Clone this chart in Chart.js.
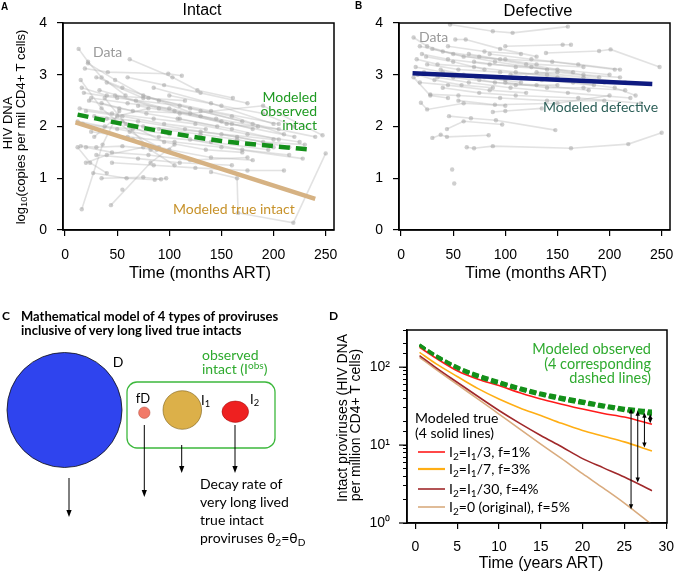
<!DOCTYPE html>
<html><head><meta charset="utf-8">
<script src="https://cdn.jsdelivr.net/npm/chart.js@4.4.1/dist/chart.umd.min.js"></script>
<style>
body{margin:0;background:#fff;width:676px;height:571px;position:relative;overflow:hidden;font-family:'Liberation Sans',Arial,sans-serif}
canvas{position:absolute}
.t{position:absolute;white-space:nowrap;line-height:1}
.t sub{font-size:0.72em;vertical-align:-0.28em;line-height:0}
.t sup{font-size:0.72em;vertical-align:0.45em;line-height:0}
svg{position:absolute;left:0;top:0}
</style></head><body>
<canvas id="cA" width="340" height="290" style="left:0;top:0"></canvas>
<canvas id="cB" width="340" height="290" style="left:336px;top:0"></canvas>
<canvas id="cD" width="340" height="271" style="left:336px;top:300px"></canvas>
<svg id="sv" width="676" height="571"></svg>
<script>
// ---------- DATA ----------
// Panel A: intact HIV DNA per participant, [months ART, log10 copies]
const intactPatients = [
 [[13,3.5],[22,3.25],[35,2.95],[58,2.6]],
 [[62,3.3],[103,2.95],[127,2.7],[161,2.55]],
 [[19,3.12],[41,3.05],[99,3.02],[112,2.98]],
 [[22,3.22],[48,2.9],[75,2.6],[120,2.35],[170,2.1]],
 [[30,2.95],[55,2.75],[90,2.5],[130,2.2],[180,1.95]],
 [[16,2.75],[40,2.6],[80,2.55],[140,2.3],[205,2.05]],
 [[18,2.65],[50,2.55],[110,2.4],[160,2.2],[210,1.85]],
 [[25,2.55],[60,2.45],[100,2.35],[150,2.1]],
 [[35,2.45],[65,2.3],[120,2.25],[190,2.4],[247,1.83]],
 [[14,2.35],[45,2.25],[85,2.15],[125,2.05],[175,1.85],[225,1.7]],
 [[20,2.3],[55,2.2],[95,2.05],[135,1.95]],
 [[28,2.2],[70,2.1],[115,1.95],[165,1.8],[215,1.6]],
 [[40,2.15],[75,2.0],[130,1.9],[200,1.75]],
 [[17,2.05],[50,1.95],[90,1.8],[140,1.7],[195,1.55]],
 [[25,1.9],[60,1.8],[105,1.7],[150,1.6],[228,1.38]],
 [[15,1.62],[30,1.6],[55,1.62],[88,1.55]],
 [[20,1.6],[45,1.5],[80,1.45],[120,1.35],[175,1.4]],
 [[30,1.45],[70,1.38],[110,1.3],[160,1.25]],
 [[45,1.3],[85,1.25],[125,1.2],[175,1.15],[210,1.15]],
 [[27,1.1],[59,1.0],[86,0.97],[97,1.0]],
 [[35,1.0],[75,1.02],[92,0.98]],
 [[16,0.4],[36,1.65],[52,2.3]],
 [[44,0.48],[82,1.3],[105,1.65]],
 [[55,0.78]],
 [[140,1.12],[165,1.0],[166,0.33],[219,0.14],[250,1.48]],
 [[60,2.95],[95,2.8],[130,2.65],[175,2.45]],
 [[85,2.75],[140,2.45],[200,2.05]],
 [[100,2.6],[150,2.4],[190,2.25],[220,2.0]],
 [[12,2.1],[38,2.0],[65,1.95],[100,1.85]],
 [[23,2.5],[52,2.35],[78,2.25],[108,2.15],[146,2.0]],
 [[33,2.7],[68,2.5],[105,2.3],[155,2.05],[205,1.95]],
 [[40,2.85],[75,2.55],[115,2.5]],
 [[48,2.6],[90,2.35],[145,2.15],[185,2.0]],
 [[55,2.1],[95,1.7],[135,1.55],[170,1.5]],
 [[65,1.75],[100,1.55],[140,1.4],[180,1.35]],
 [[70,2.4],[110,2.25],[160,2.05],[220,1.8]],
 [[110,2.15],[160,1.95],[205,1.75]],
 [[120,1.75],[170,1.55],[215,1.45]],
 [[130,2.3],[180,2.05],[240,1.8]],
 [[15,2.9],[35,2.35],[62,1.9],[90,1.6]],
 [[20,1.3],[40,1.45],[75,1.6]],
 [[28,1.8],[50,2.2],[80,2.35]],
 [[12,1.6],[24,1.3],[40,1.1]],
 [[38,2.55],[58,2.05],[82,1.55],[105,1.25]],
 [[150,1.85],[190,1.7],[230,1.65]],
 [[90,1.95],[130,1.85],[165,1.75],[200,1.6]]
];
// Panel B: defective HIV DNA per participant
const defectivePatients = [
 [[47,3.97],[88,3.84],[107,3.81],[160,3.93]],
 [[12,3.72],[25,3.55],[50,3.4],[90,3.25],[140,3.1]],
 [[52,3.68],[62,3.68],[95,3.5],[130,3.35]],
 [[18,3.55],[40,3.45],[75,3.35],[120,3.2],[165,3.05]],
 [[139,3.42],[190,3.46],[201,3.49],[248,3.15]],
 [[100,3.55],[155,3.58],[163,3.58]],
 [[20,3.4],[45,3.3],[85,3.2],[125,3.15],[175,3.0],[210,2.95]],
 [[15,3.3],[35,3.2],[70,3.15],[110,3.05],[150,2.95]],
 [[25,3.2],[55,3.1],[95,3.05],[140,3.0],[195,2.85]],
 [[30,3.5],[60,3.35],[100,3.3],[145,3.25],[205,3.1]],
 [[14,3.15],[40,3.05],[80,2.95],[115,2.85]],
 [[22,3.05],[50,2.95],[90,2.85],[130,2.8],[180,2.7]],
 [[35,2.95],[65,2.85],[105,2.75],[160,2.65],[220,2.55]],
 [[18,2.85],[45,2.8],[85,2.7],[120,2.65]],
 [[40,2.75],[75,2.65],[110,2.6],[170,2.55],[230,2.45]],
 [[19,2.46],[25,2.33],[60,2.45],[100,2.4]],
 [[28,2.62],[55,2.6],[95,2.55],[140,2.5],[195,2.5]],
 [[60,3.0],[95,2.95],[135,2.9],[185,2.8]],
 [[70,3.25],[110,3.15],[150,3.1],[200,3.0]],
 [[85,3.4],[125,3.3],[170,3.2],[210,3.1]],
 [[45,3.55],[80,3.45],[115,3.4]],
 [[120,2.95],[165,2.85],[205,2.75],[225,2.6]],
 [[16,3.0],[32,2.9],[58,2.8],[88,2.75]],
 [[63,1.6],[70,1.58],[88,1.62],[163,1.58],[218,1.66],[250,1.88]],
 [[30,1.78],[38,1.84],[44,1.8],[84,1.83]],
 [[46,2.2],[67,2.16],[91,2.12],[148,1.93]],
 [[44,1.95],[60,2.1],[97,2.04]],
 [[49,1.17]],
 [[51,0.9]],
 [[88,2.28],[100,2.3],[135,2.35]],
 [[55,2.5],[90,2.42],[150,2.45],[200,2.6]],
 [[100,2.85],[140,2.75],[175,2.75],[215,2.7]],
 [[130,3.05],[175,2.95],[215,2.85]],
 [[24,3.35],[50,3.25],[80,3.1]],
 [[75,2.9],[110,2.8],[150,2.8]],
 [[12,2.95],[28,2.6],[45,2.55]],
 [[65,3.4],[95,3.3],[130,3.2],[175,3.15]],
 [[105,3.0],[150,3.05],[190,2.95]],
 [[38,3.1],[72,2.95],[100,2.9]]
];
// Model curves A/B
const obsIntactT = [12, 50, 100, 150, 200, 237];
const obsIntactV = [2.23, 2.07, 1.88, 1.72, 1.62, 1.55];
const trueIntactT = [10, 240];
const trueIntactV = [2.08, 0.6];
const defModelT = [11, 241];
const defModelV = [3.03, 2.82];
// Panel D (years ART vs intact proviruses per million CD4+ T cells)
const dYears = [0.5, 2.5, 5, 7.5, 10, 12.5, 15, 17.5, 20, 22.5, 25, 28.3];
const trueI1over3  = [180, 130, 90, 70, 58, 47, 39, 33.5, 29, 25.5, 22.9, 18.5];
const trueI1over7  = [155, 110, 76, 53, 39, 30, 24, 19, 15.4, 13, 11, 8.4];
const trueI1over30 = [141, 98, 64, 42, 27.8, 19, 13.3, 9.5, 6.7, 5.1, 3.9, 2.6];
const trueOriginal = [134, 93, 60, 39, 25, 16, 10.3, 6.7, 4.3, 2.8, 1.8, 0.95];
const obsOriginal  = [195, 142, 102, 80, 66, 55, 47, 41.5, 37, 33, 30, 27.5];
const obsI1over30  = [193, 140, 100, 78, 64, 53.5, 46, 40.5, 36, 32.5, 29.2, 26.6];
const obsI1over7   = [191, 138, 98, 76, 62.5, 52, 44.5, 39, 35, 31.5, 28.3, 25.5];
const obsI1over3   = [189, 136, 96, 74, 61, 51, 43.5, 38, 34, 30.5, 27.5, 24.5];
const dLegendLabels = ['I<sub>2</sub>=I<sub>1</sub>/3, f=1%','I<sub>2</sub>=I<sub>1</sub>/7, f=3%','I<sub>2</sub>=I<sub>1</sub>/30, f=4%','I<sub>2</sub>=0 (original), f=5%'];
const dGapYears  = [25.8, 26.6, 27.4, 28.1];
const dGapTop    = [29.5, 27.5, 26, 25];
const dGapBottom = [1.5, 3.3, 9.3, 19];
const xTicksMonths = [0, 50, 100, 150, 200, 250];

// ---------- STYLE ----------
const GREEN = '#14901a', TAN = '#d6b283', NAVY = '#0e1a80';
const dColors = ['#ff1a1a', '#ffae14', '#a0282a', '#d9ab7e'];
const annFont = "Lato, 'Open Sans', sans-serif";

// ---------- helpers ----------
function xy(t, v){ return t.map((x,i)=>({x, y:v[i]})); }
function fixY(w){ return s=>{ s.width=w; s.paddingTop=0; s.paddingBottom=0; s.paddingLeft=0; s.paddingRight=0; }; }
function fixX(h){ return s=>{ s.height=h; s.paddingTop=0; s.paddingBottom=0; s.paddingLeft=0; s.paddingRight=0; }; }
const boxPlugin = { id:'box', afterDraw(c){ const {ctx, chartArea:a} = c; ctx.save(); ctx.strokeStyle='#000'; ctx.lineWidth=1.5;
  ctx.strokeRect(a.left, a.top, a.right-a.left, a.bottom-a.top); ctx.restore(); } };
const tickFont = {family:"'Liberation Sans', Arial, sans-serif", size:14};

function patientSets(pts){
  return pts.map(p=>({ data:p.map(([x,y])=>({x,y})), showLine:true, order:2,
    borderColor:'rgba(175,175,175,0.36)', borderWidth:1.6,
    pointRadius:2.2, pointBackgroundColor:'rgba(160,160,160,0.5)', pointBorderWidth:0 }));
}
function panelAB(id, patients, models){
  return new Chart(document.getElementById(id), {
    type:'scatter',
    data:{ datasets: models.concat(patientSets(patients)) },
    options:{ responsive:false, animation:false, events:[],
      layout:{ padding:{ top:23, right:6, left:0, bottom:0 } },
      plugins:{ legend:{display:false}, tooltip:{enabled:false} },
      scales:{
        x:{ type:'linear', min:-2, max:258, afterFit:fixX(60),
            afterBuildTicks: s=>{ s.ticks = xTicksMonths.map(v=>({value:v})); },
            grid:{ drawOnChartArea:false, tickLength:6, color:'#000', lineWidth:1.2 },
            border:{ color:'#000', width:1.5 },
            ticks:{ font:tickFont, color:'#000', padding:11, maxRotation:0 } },
        y:{ type:'linear', min:0, max:4, afterFit:fixY(63),
            ticks:{ stepSize:1, font:tickFont, color:'#000', padding:10 },
            grid:{ drawOnChartArea:false, tickLength:6, color:'#000', lineWidth:1.2 },
            border:{ color:'#000', width:1.5 } }
      } },
    plugins:[boxPlugin]
  });
}
panelAB('cA', intactPatients, [
  { data:xy(obsIntactT, obsIntactV), showLine:true, order:0, borderColor:GREEN, borderWidth:4.5, borderDash:[11,6], pointRadius:0, cubicInterpolationMode:'monotone' },
  { data:xy(trueIntactT, trueIntactV), showLine:true, order:1, borderColor:TAN, borderWidth:4.5, pointRadius:0 }
]);
panelAB('cB', defectivePatients, [
  { data:xy(defModelT, defModelV), showLine:true, order:0, borderColor:NAVY, borderWidth:4.5, pointRadius:0 }
]);

// Panel D
const supMap = {0:'⁰',1:'¹',2:'²'};
const arrowPlugin = { id:'gaps', afterDatasetsDraw(c){
  const {ctx} = c, sx=c.scales.x, sy=c.scales.y;
  ctx.save(); ctx.strokeStyle='#000'; ctx.fillStyle='#000'; ctx.lineWidth=1;
  dGapYears.forEach((yr,i)=>{
    const x=sx.getPixelForValue(yr), y1=sy.getPixelForValue(dGapTop[i]), y2=sy.getPixelForValue(dGapBottom[i]);
    ctx.beginPath(); ctx.moveTo(x,y1+2); ctx.lineTo(x,y2-2); ctx.stroke();
    ctx.beginPath(); ctx.moveTo(x,y2); ctx.lineTo(x-2.2,y2-5); ctx.lineTo(x+2.2,y2-5); ctx.closePath(); ctx.fill();
    ctx.beginPath(); ctx.moveTo(x,y1); ctx.lineTo(x-2.2,y1+5); ctx.lineTo(x+2.2,y1+5); ctx.closePath(); ctx.fill();
  });
  ctx.lineWidth=1.2;
  [1,10,100].forEach(v=>{ const y=sy.getPixelForValue(v); ctx.beginPath(); ctx.moveTo(c.chartArea.left-8,y); ctx.lineTo(c.chartArea.left,y); ctx.stroke(); });
  ctx.restore(); } };
const solid = (v,col)=>({ data:xy(dYears,v), showLine:true, order:3, borderColor:col, borderWidth:1.6, pointRadius:0, cubicInterpolationMode:'monotone' });
const dashed = v=>({ data:xy(dYears,v), showLine:true, order:1, borderColor:GREEN, borderWidth:2.6, borderDash:[7,3], pointRadius:0, cubicInterpolationMode:'monotone' });
new Chart(document.getElementById('cD'), {
  type:'scatter',
  data:{ datasets:[ dashed(obsOriginal), dashed(obsI1over30), dashed(obsI1over7), dashed(obsI1over3),
    solid(trueI1over3,dColors[0]), solid(trueI1over7,dColors[1]), solid(trueI1over30,dColors[2]), solid(trueOriginal,dColors[3]) ] },
  options:{ responsive:false, animation:false, events:[],
    layout:{ padding:{ top:30, right:9, left:0, bottom:0 } },
    plugins:{ legend:{display:false}, tooltip:{enabled:false} },
    scales:{
      x:{ type:'linear', min:-1, max:30.1, afterFit:fixX(48),
          ticks:{ stepSize:5, includeBounds:false, font:tickFont, color:'#000', padding:10, maxRotation:0 },
          grid:{ drawOnChartArea:false, tickLength:6, color:'#000', lineWidth:1.2 },
          border:{ color:'#000', width:1.5 } },
      y:{ type:'logarithmic', min:1, max:300, afterFit:fixY(71),
          ticks:{ autoSkip:false, font:tickFont, color:'#000', padding:13,
            callback:v=>{ const l=Math.log10(v); return Math.abs(l-Math.round(l))<1e-9 ? '10'+supMap[Math.round(l)] : ''; } },
          grid:{ drawOnChartArea:false, tickLength:4, color:'#000', lineWidth:1 },
          border:{ color:'#000', width:1.5 } }
    } },
  plugins:[boxPlugin, arrowPlugin]
});

// ---------- TEXT ----------
function T(html, x, y, o={}){
  const d=document.createElement('div'); d.className='t'; d.innerHTML=html;
  d.style.left=x+'px'; d.style.top=y+'px';
  d.style.fontSize=(o.size||14)+'px'; d.style.color=o.color||'#000';
  d.style.fontFamily=o.font||"'Liberation Sans', Arial, sans-serif";
  if(o.bold) d.style.fontWeight='bold';
  if(o.lh) d.style.lineHeight=o.lh;
  if(o.ta) d.style.textAlign=o.ta;
  const ax = o.align==='center'?'-50%':o.align==='right'?'-100%':'0';
  d.style.transform = o.rot ? 'translate(-50%,-50%) rotate(-90deg)' : `translate(${ax},-50%)`;
  document.body.appendChild(d);
}
// Panel A
T('A', 1, 7, {size:10, bold:true});
T('Intact', 202, 10, {size:16, align:'center'});
T('HIV DNA', 7, 123, {size:13, rot:true});
T('log<sub>10</sub>(copies per mil CD4+ T cells)', 20, 127, {size:13, rot:true});
T('Time (months ART)', 200, 272, {size:16.5, align:'center'});
T('Data', 93, 52, {size:14, color:'#9a9a9a', font:annFont});
T('Modeled<br>observed<br>intact', 317, 111, {size:14, color:'#1f9a22', font:annFont, lh:'14px', ta:'right', align:'right'});
T('Modeled true intact', 173, 209, {size:14, color:'#c7922a', font:annFont});
// Panel B
T('B', 355, 6, {size:10, bold:true});
T('Defective', 538, 10, {size:16.5, align:'center'});
T('Time (months ART)', 536, 272, {size:16.5, align:'center'});
T('Data', 419, 37, {size:14, color:'#9a9a9a', font:annFont});
T('Modeled defective', 543, 107, {size:14, color:'#2c5f58', font:annFont});
// Panel C
T('C', 2, 316, {size:12, bold:true, font:annFont});
T('Mathematical model of 4 types of proviruses<br>inclusive of very long lived true intacts', 21, 323, {size:13, bold:true, font:annFont, lh:'14px'});
T('D', 118, 362, {size:14, align:'center', font:annFont});
T('observed<br>intact (I<sup>obs</sup>)', 202, 362, {size:14, color:'#2eaa2e', font:annFont, lh:'14px'});
T('fD', 143, 398, {size:13, align:'center', font:annFont});
T('I<sub>1</sub>', 201, 400, {size:13, font:annFont});
T('I<sub>2</sub>', 250, 399, {size:13, font:annFont});
T('Decay rate of<br>very long lived<br>true intact<br>proviruses θ<sub>2</sub>=θ<sub>D</sub>', 200, 511, {size:14, font:annFont, lh:'18px'});
// Panel D
T('D', 329, 316, {size:12, bold:true, font:annFont});
T('Intact proviruses (HIV DNA', 342, 418, {size:14, rot:true});
T('per million CD4+ T cells)', 355, 425, {size:14, rot:true});
T('Time (years ART)', 541, 563, {size:16, align:'center'});
T('Modeled observed<br>(4 corresponding<br>dashed lines)', 651, 364, {size:14.5, color:'#2eaa2e', font:annFont, lh:'14.5px', ta:'right', align:'right'});
T('Modeled true<br>(4 solid lines)', 415, 425, {size:14, font:annFont, lh:'15px'});
const legY = [452, 469, 489, 507];
dLegendLabels.forEach((s,i)=>T(s, 449, legY[i], {size:14, font:annFont}));

// ---------- SVG shapes (panel C diagram, D legend swatches) ----------
const sv = document.getElementById('sv');
const NS='http://www.w3.org/2000/svg';
function S(tag, attrs){ const e=document.createElementNS(NS,tag); for(const k in attrs) e.setAttribute(k, attrs[k]); sv.appendChild(e); return e; }
S('circle',{cx:64.5, cy:410, r:57.5, fill:'#2f44ee', stroke:'#111', 'stroke-width':0.8});
S('rect',{x:127, y:382, width:148, height:66, rx:10, fill:'none', stroke:'#3cb83c', 'stroke-width':1.3});
S('circle',{cx:144.3, cy:412.7, r:5.7, fill:'#f27a68', stroke:'#b04a3a', 'stroke-width':0.5});
S('circle',{cx:182.3, cy:410, r:19.3, fill:'#dcb049', stroke:'#7a5e18', 'stroke-width':0.6});
S('ellipse',{cx:235.3, cy:411.7, rx:13.3, ry:10.7, fill:'#ee2020', stroke:'#900', 'stroke-width':0.5});
function arrow(x, y1, y2){
  S('line',{x1:x, y1:y1, x2:x, y2:y2-4, stroke:'#000', 'stroke-width':1});
  S('polygon',{points:`${x},${y2} ${x-2.6},${y2-7} ${x+2.6},${y2-7}`, fill:'#000'});
}
arrow(69, 478, 517); arrow(144.3, 425, 497); arrow(181.7, 445, 473); arrow(235, 425, 473);
legY.forEach((y,i)=>S('line',{x1:418, y1:y, x2:445, y2:y, stroke:dColors[i], 'stroke-width':i===1?2.2:1.6}));
</script>
</body></html>
